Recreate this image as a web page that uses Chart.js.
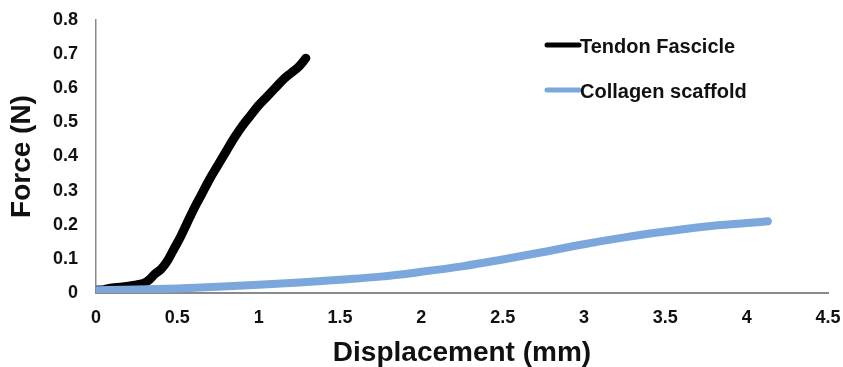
<!DOCTYPE html>
<html>
<head>
<meta charset="utf-8">
<script src="https://cdn.jsdelivr.net/npm/chart.js@4.4.0/dist/chart.umd.min.js"></script>
<style>
  html, body { margin: 0; padding: 0; background: #fff; }
  #wrap { width: 843px; height: 367px; position: relative; }
</style>
</head>
<body>
<div id="wrap"><canvas id="forceChart"></canvas></div>
<script>
// series labels + colours
var seriesNames = ['Tendon Fascicle', 'Collagen scaffold'];
var seriesColors = ['#000000', '#7ba7dc'];

// tendon fascicle: displacement (mm) / force (N)
var tendonDisp = [0, 0.05, 0.1, 0.15, 0.2, 0.25, 0.3, 0.33, 0.36, 0.4, 0.44, 0.48, 0.52, 0.56, 0.6, 0.65, 0.7, 0.75, 0.8, 0.85, 0.9, 0.95, 1.0, 1.05, 1.1, 1.15, 1.2, 1.25, 1.29];
var tendonForce = [0.008, 0.01, 0.015, 0.017, 0.02, 0.024, 0.03, 0.04, 0.055, 0.07, 0.095, 0.13, 0.165, 0.205, 0.245, 0.29, 0.335, 0.375, 0.415, 0.455, 0.49, 0.52, 0.55, 0.575, 0.6, 0.625, 0.645, 0.665, 0.688];

// collagen scaffold
var scaffoldDisp = [0, 0.25, 0.5, 0.75, 1, 1.25, 1.5, 1.75, 2, 2.25, 2.5, 2.75, 3, 3.25, 3.5, 3.75, 4, 4.13];
var scaffoldForce = [0.008, 0.01, 0.013, 0.018, 0.024, 0.031, 0.039, 0.048, 0.062, 0.078, 0.098, 0.12, 0.143, 0.163, 0.18, 0.195, 0.205, 0.21];

// axes
var xMin = 0, xMax = 4.5, xStep = 0.5;
var yMin = 0, yMax = 0.8, yStep = 0.1;
var xTitle = 'Displacement (mm)';
var yTitle = 'Force (N)';

var fontFam = 'Arial, "Liberation Sans", sans-serif';

function toPoints(xs, ys) {
    var pts = [];
    for (let i = 0; i < xs.length; i++) {
        pts.push({x: xs[i], y: ys[i]});
    }
    return pts;
}

// legend drawn inside the plot, top right
var sideLegend = {
    id: 'sideLegend',
    afterDraw: function(chart) {
        var ctx = chart.ctx;
        ctx.save();
        ctx.font = 'bold 20px ' + fontFam;
        ctx.textBaseline = 'middle';
        ctx.textAlign = 'left';
        for (let i = 0; i < seriesNames.length; i++) {
            var y = 45 + i * 45;
            ctx.strokeStyle = seriesColors[i];
            ctx.lineWidth = 5;
            ctx.lineCap = 'round';
            ctx.beginPath();
            ctx.moveTo(547, y);
            ctx.lineTo(579, y);
            ctx.stroke();
            ctx.fillStyle = '#111';
            ctx.fillText(seriesNames[i], 580, y + 2);
        }
        ctx.restore();
    }
};

var ctx = document.getElementById('forceChart');
var chart = new Chart(ctx, {
    type: 'line',
    data: {
        datasets: [{
            label: seriesNames[0],
            data: toPoints(tendonDisp, tendonForce),
            borderColor: seriesColors[0],
            borderWidth: 9,
            order: 2
        }, {
            label: seriesNames[1],
            data: toPoints(scaffoldDisp, scaffoldForce),
            borderColor: seriesColors[1],
            borderWidth: 8,
            order: 1
        }]
    },
    options: {
        responsive: true,
        maintainAspectRatio: false,
        animation: false,
        layout: { padding: { left: 8, right: 15, top: 20, bottom: 0 } },
        elements: {
            point: { radius: 0 },
            line: { cubicInterpolationMode: 'monotone', borderCapStyle: 'round', borderJoinStyle: 'round', fill: false }
        },
        plugins: {
            legend: { display: false },
            tooltip: { enabled: false }
        },
        scales: {
            x: {
                type: 'linear',
                min: xMin,
                max: xMax,
                afterFit: function(s) {
                    s.height = 74;
                    s.paddingLeft = 0;
                    s.paddingRight = 0;
                },
                grid: { display: false, drawTicks: false },
                border: { display: true, color: '#8a8a8a', width: 2 },
                ticks: {
                    stepSize: xStep,
                    padding: 14,
                    color: '#111',
                    font: { family: fontFam, size: 18, weight: 'bold' },
                    callback: function(v) { return +v.toFixed(1); }
                },
                title: {
                    display: true,
                    text: xTitle,
                    color: '#111',
                    padding: 0,
                    font: { family: fontFam, size: 28, weight: 'bold', lineHeight: 1 }
                }
            },
            y: {
                min: yMin,
                max: yMax,
                afterFit: function(s) {
                    s.width = 88;
                    s.paddingTop = 0;
                    s.paddingBottom = 0;
                },
                grid: { display: false, drawTicks: false },
                border: { display: true, color: '#8a8a8a', width: 1.5 },
                ticks: {
                    stepSize: yStep,
                    padding: 18,
                    color: '#111',
                    font: { family: fontFam, size: 18, weight: 'bold' },
                    callback: function(v) { return +v.toFixed(1); }
                },
                title: {
                    display: true,
                    text: yTitle,
                    color: '#111',
                    padding: 0,
                    font: { family: fontFam, size: 28, weight: 'bold', lineHeight: 1 }
                }
            }
        }
    },
    plugins: [sideLegend]
});
</script>
</body>
</html>
